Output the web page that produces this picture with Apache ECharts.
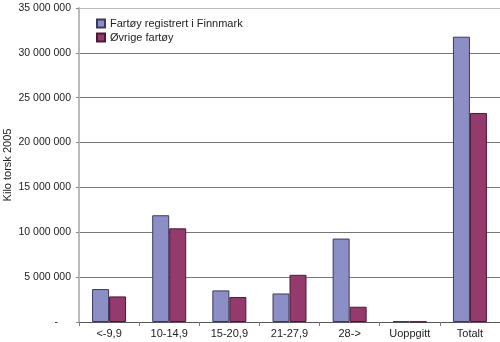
<!DOCTYPE html>
<html>
<head>
<meta charset="utf-8">
<script src="https://cdn.jsdelivr.net/npm/echarts@6/dist/echarts.min.js"></script>
<style>html,body{margin:0;padding:0;background:#fff}#c{width:500px;height:342px}</style>
</head>
<body>
<div id="c"></div>
<script>
const categories = ['<-9,9', '10-14,9', '15-20,9', '21-27,9', '28->', 'Uoppgitt', 'Totalt'];
const seriesNames = ['Fartøy registrert i Finnmark', 'Øvrige fartøy'];
const finnmark = [3670000, 11900000, 3520000, 3180000, 9300000, 100000, 31800000];
const ovrige = [2850000, 10440000, 2780000, 5260000, 1700000, 50000, 23300000];
const yTicks = [0, 5000000, 10000000, 15000000, 20000000, 25000000, 30000000, 35000000];

const font = 'Liberation Sans, Arial, sans-serif';
const chart = echarts.init(document.getElementById('c'), null, {renderer: 'canvas'});
chart.setOption({
  animation: false,
  backgroundColor: '#fff',
  grid: {left: 79, right: 0, top: 8, bottom: 20, containLabel: false, outerBoundsMode: 'none'},
  legend: {
    orient: 'vertical', left: 91, top: 13, itemWidth: 8, itemHeight: 8, itemGap: 3,
    icon: 'rect',
    textStyle: {fontFamily: font, fontSize: 11, color: '#222'},
    data: seriesNames
  },
  xAxis: {
    type: 'category', data: categories,
    axisLine: {lineStyle: {color: '#555', width: 1}},
    axisTick: {show: true, length: 4, interval: 0, lineStyle: {color: '#777'}},
    axisLabel: {fontFamily: font, fontSize: 11, color: '#222', margin: 6, interval: 0}
  },
  yAxis: {
    type: 'value', min: yTicks[0], max: yTicks[yTicks.length - 1], interval: 5000000,
    name: 'Kilo torsk 2005', nameLocation: 'middle', nameGap: 66, nameRotate: 90, nameMoveOverlap: false,
    nameTextStyle: {fontFamily: font, fontSize: 11, color: '#222'},
    axisLine: {show: true, lineStyle: {color: '#bbb', width: 2}},
    axisTick: {show: true, length: 3, lineStyle: {color: '#888'}},
    axisLabel: {
      fontFamily: font, fontSize: 10.5, color: '#222', margin: 8,
      formatter: v => v === 0 ? '{z|-}' : String(v).replace(/\B(?=(\d{3})+(?!\d))/g, ' '),
      rich: {z: {fontFamily: font, fontSize: 10.5, color: '#222', padding: [0, 13, 0, 0]}}
    },
    splitLine: {show: true, lineStyle: {color: ['#777', '#777', '#777', '#777', '#777', '#777', '#777', '#bbb'], width: 1}}
  },
  series: [
    {name: seriesNames[0], type: 'bar', data: finnmark, barWidth: 17, barGap: '0%', barCategoryGap: '43%',
     itemStyle: {color: '#8B8FC6', borderColor: '#3a3a5c', borderWidth: 1}},
    {name: seriesNames[1], type: 'bar', data: ovrige, barWidth: 17,
     itemStyle: {color: '#953A6C', borderColor: '#4a1a35', borderWidth: 1}}
  ]
});
</script>
</body>
</html>
